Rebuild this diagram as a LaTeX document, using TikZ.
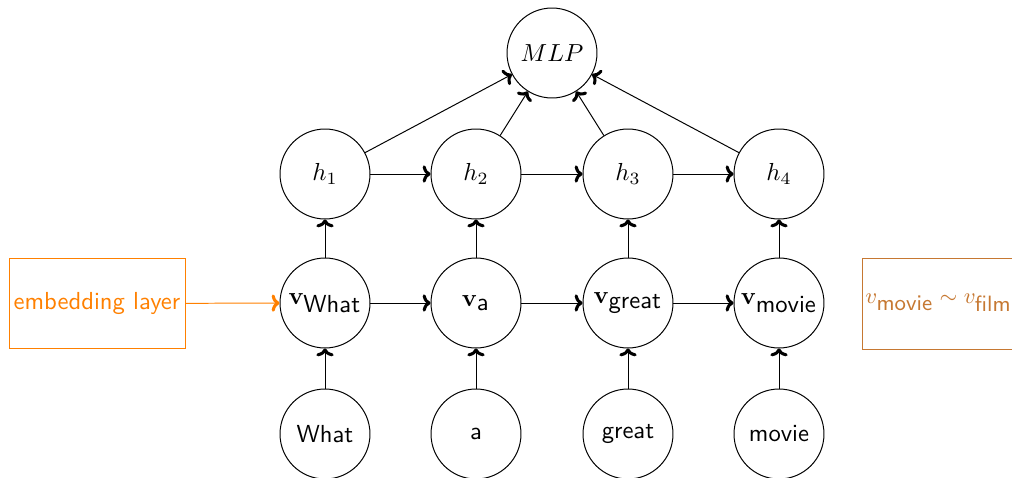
\documentclass[tikz,border=0pt]{standalone}
\usetikzlibrary{arrows.meta}
\definecolor{embor}{RGB}{255,128,0}
\definecolor{simcol}{RGB}{198,120,50}
\begin{document}
\begin{tikzpicture}[x=0.4057pt,y=-0.4057pt,
  every node/.style={font=\sffamily},
  unit/.style={draw,circle,minimum size=36.5pt,inner sep=0pt},
  arr/.style={-{To[line width=1.25pt,length=3.2pt,width=7pt]}},
  embbox/.style={draw=embor,text=embor,minimum width=71.4pt,minimum height=36.9pt,inner sep=0pt}]
\clip (0,0) rectangle (1012,478);
\useasboundingbox (0,0) rectangle (1012,478);
% top
\node[unit] (mlp) at (552,53) {$MLP$};
% hidden
\node[unit] (h1) at (325,174) {$h_1$};
\node[unit] (h2) at (476,174) {$h_2$};
\node[unit] (h3) at (628,174) {$h_3$};
\node[unit] (h4) at (779,174) {$h_4$};
% embeddings
\node[unit] (v1) at (325,303) {$\mathbf{v}_{\textsf{What}}$};
\node[unit] (v2) at (476,303) {$\mathbf{v}_{\textsf{a}}$};
\node[unit] (v3) at (628,303) {$\mathbf{v}_{\textsf{great}}$};
\node[unit] (v4) at (779,303) {$\mathbf{v}_{\textsf{movie}}$};
% words
\node[unit] (w1) at (325,434) {What};
\node[unit] (w2) at (476,434) {a};
\node[unit] (w3) at (628,434) {great};
\node[unit] (w4) at (779,434) {movie};
% boxes
\node[embbox] (emb) at (97,303.5) {embedding layer};
\draw[simcol] (1040,258) -- (862,258) -- (862,349) -- (1040,349);
\node[anchor=west,text=simcol,inner sep=0pt,font=\sffamily\fontsize{9}{11}\selectfont] (sim) at (865,303) {$v_{\textsf{movie}}\sim v_{\textsf{film}}$};
% connectors
\foreach \i in {1,2,3,4}{
  \draw[arr] (w\i) -- (v\i);
  \draw[arr] (v\i) -- (h\i);
  \draw[arr] (h\i) -- (mlp);
}
\foreach \i/\j in {1/2,2/3,3/4}{
  \draw[arr] (v\i) -- (v\j);
  \draw[arr] (h\i) -- (h\j);
}
\draw[arr,embor] (emb) -- (v1);
\end{tikzpicture}
\end{document}
